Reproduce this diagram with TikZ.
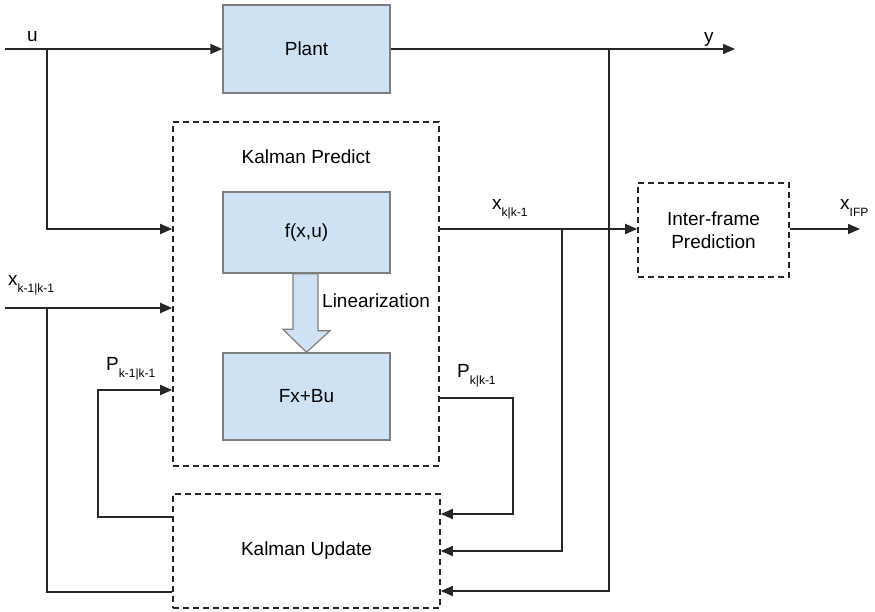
\documentclass[tikz,border=0pt]{standalone}
\usepackage{fontspec}
\setmainfont{Liberation Sans}
\usepackage{xcolor}
\usetikzlibrary{arrows.meta,positioning}
\definecolor{blockfill}{HTML}{CFE2F3}
\definecolor{blockdraw}{HTML}{7F7F7F}
\newcommand{\lowidx}[1]{\raisebox{-7pt}{\fontsize{12}{13}\selectfont #1}}
\tikzset{
    block-box/.style = {draw=blockdraw, fill=blockfill, line width=1.4pt, rectangle, minimum width=167pt, minimum height=88pt, font=\fontsize{19}{23}\selectfont},
    dashed-box/.style = {draw=black!85, line width=1.6pt, dash pattern=on 6pt off 4pt, rectangle, align=center, font=\fontsize{19}{23}\selectfont},
    signal/.style = {draw=black!85, line width=1.8pt},
    signal-arrow/.style = {signal, -{Triangle[length=12pt,width=10pt]}},
    signal-label/.style = {inner sep=0pt, anchor=base west, font=\fontsize{19}{23}\selectfont},
}

\begin{document}
\begin{tikzpicture}[x=1pt, y=-1pt]
\useasboundingbox (0,0) rectangle (875,612);
\node [block-box] (plant) at (306.5,49) {Plant};
\node [dashed-box, minimum width=266pt, minimum height=344pt] (predict) at (306,294) {};
\node [signal-label, anchor=north, below=28pt of predict.north] (predict-title) {Kalman Predict};
\node [block-box, minimum height=81pt] (fxu) at (306.5,232.5) {f(x,u)};
\node [block-box, minimum height=87pt] (fxbu) at (306.5,396.5) {Fx+Bu};
\node [dashed-box, minimum width=267pt, minimum height=114pt] (update) at (306.5,551) {Kalman Update};
\node [dashed-box, minimum width=151pt, minimum height=94pt] (ifp) at (713.5,230) {Inter-frame\\Prediction};

\draw [draw=blockdraw, fill=blockfill, line width=1.2pt] (fxu.south) ++(-13.5,0) -- ++(25,0) -- ++(0,57) -- ++(12,0) -- (fxbu.north) -- ++(-23.5,-23) -- ++(10,0) -- cycle;
\node [signal-label, anchor=west] (lin) at (322,301) {Linearization};

\coordinate (u-in) at (5,49);
\coordinate (u-split) at (47,49);
\coordinate (y-split) at (609,49);
\coordinate (y-out) at (735,49);
\coordinate (xk-split) at (562,229);
\coordinate (xifp-out) at (860,229);
\coordinate (xprev-in) at (5,308);
\coordinate (xprev-split) at (47,308);
\coordinate (pprev-turn) at (98,390);
\coordinate (pk-turn) at (513,398);

\draw [signal-arrow] (u-in) -- (plant);
\draw [signal-arrow] (plant) -- (y-out);
\draw [signal-arrow] (u-split) |- (xk-split -| predict.west);
\draw [signal-arrow] (y-split) |- ([yshift=-40pt]update.east);
\draw [signal-arrow] (xk-split -| predict.east) -- (xk-split -| ifp.west);
\draw [signal-arrow] (xk-split) |- (update.east);
\draw [signal-arrow] (xk-split -| ifp.east) -- (xifp-out);
\draw [signal-arrow] (xprev-in) -- (xprev-in -| predict.west);
\draw [signal] (xprev-split) |- ([yshift=-41pt]update.west);
\draw [signal-arrow] ([yshift=34pt]update.west) -| (pprev-turn) -- (pprev-turn -| predict.west);
\draw [signal-arrow] (pk-turn -| predict.east) -- (pk-turn) |- ([yshift=37pt]update.east);

\node [signal-label] (u-label) at (27,42) {u};
\node [signal-label] (y-label) at (704,43) {y};
\node [signal-label] (xprev-label) at (8,285) {x\lowidx{k-1|k-1}};
\node [signal-label] (pprev-label) at (106,370) {P\lowidx{k-1|k-1}};
\node [signal-label] (xk-label) at (492,210) {x\lowidx{k|k-1}};
\node [signal-label] (pk-label) at (457,377) {P\lowidx{k|k-1}};
\node [signal-label] (xifp-label) at (840,210) {x\lowidx{IFP}};
\end{tikzpicture}
\end{document}
